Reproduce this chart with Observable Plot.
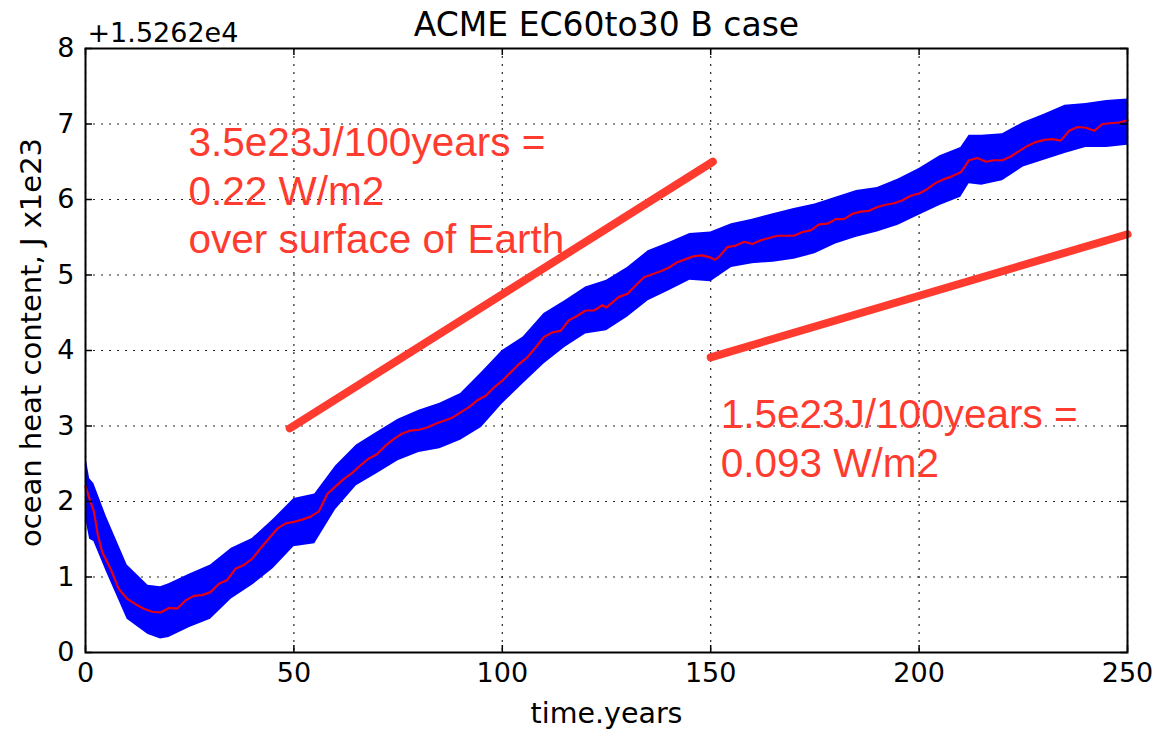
<!DOCTYPE html>
<html>
<head>
<meta charset="utf-8">
<script src="https://cdn.jsdelivr.net/npm/d3@7"></script>
<script src="https://cdn.jsdelivr.net/npm/@observablehq/plot@0.6"></script>
<style>
  html, body { margin: 0; padding: 0; background: #fff; }
  #chart svg { display: block; }
</style>
</head>
<body>
<div id="chart"></div>
<script>
// ---- data ----
const title = "ACME EC60to30 B case";
const offsetLabel = "+1.5262e4";
const xLabel = "time.years";
const yLabel = "ocean heat content, J x1e23";
const xTicks = [0, 50, 100, 150, 200, 250];
const yTicks = [0, 1, 2, 3, 4, 5, 6, 7, 8];

// annual-mean (red) line
const meanYears = [0,1,2,3,4,6,8,10,12,14,16,18,20,22,24,26,28,30,32,34,36,38,40,42,44,46,48,50,52,54,56,58,60,62,64,66,68,70,72,74,76,78,80,82,84,86,88,90,92,94,96,98,100,102,104,106,108,110,112,114,116,118,120,122,124,125,128,130,132,134,136,138,140,142,144,146,148,150,151,152,154,156,158,160,162,164,166,168,170,172,174,176,178,180,182,184,186,188,190,192,194,196,198,200,202,204,206,208,210,212,214,216,218,220,222,224,226,228,230,232,234,236,238,240,242,244,246,248,250];
const meanValues = [2.2,2.03,1.87,1.55,1.33,1.11,0.84,0.71,0.64,0.58,0.54,0.53,0.59,0.58,0.69,0.75,0.76,0.80,0.91,0.96,1.11,1.16,1.24,1.38,1.51,1.64,1.71,1.73,1.76,1.80,1.87,2.10,2.20,2.30,2.38,2.48,2.57,2.63,2.74,2.83,2.90,2.94,2.95,2.98,3.03,3.07,3.11,3.18,3.25,3.34,3.40,3.51,3.60,3.71,3.82,3.91,4.04,4.18,4.24,4.26,4.40,4.46,4.53,4.53,4.60,4.57,4.71,4.75,4.86,4.97,5.01,5.05,5.10,5.17,5.21,5.25,5.26,5.23,5.20,5.24,5.37,5.39,5.44,5.41,5.46,5.49,5.52,5.52,5.52,5.57,5.59,5.67,5.68,5.74,5.74,5.81,5.84,5.85,5.90,5.93,5.95,5.99,6.05,6.08,6.14,6.22,6.27,6.31,6.36,6.52,6.55,6.50,6.52,6.52,6.57,6.64,6.71,6.76,6.79,6.80,6.78,6.91,6.96,6.95,6.91,7.00,7.01,7.02,7.05];

// monthly (blue) seasonal envelope
const bandYears = [0,1,2,5,10,15,18,20,25,30,35,40,45,50,55,60,65,70,75,80,85,90,95,100,105,110,115,120,125,130,135,140,145,150,155,160,165,170,175,180,185,190,195,200,205,210,212,215,220,225,230,235,240,245,250];
const bandHigh = [2.62,2.3,2.24,1.80,1.16,0.89,0.87,0.91,1.04,1.16,1.38,1.51,1.76,2.04,2.10,2.47,2.75,2.92,3.09,3.21,3.30,3.43,3.71,4.0,4.18,4.49,4.66,4.84,4.93,5.10,5.32,5.43,5.55,5.57,5.68,5.74,5.81,5.88,5.94,6.03,6.12,6.16,6.27,6.41,6.58,6.69,6.85,6.85,6.87,7.02,7.13,7.25,7.27,7.31,7.33];
const bandLow = [1.78,1.5,1.47,1.07,0.44,0.24,0.18,0.20,0.33,0.44,0.71,0.89,1.11,1.40,1.44,1.89,2.21,2.37,2.54,2.65,2.70,2.81,2.98,3.29,3.56,3.82,4.04,4.22,4.26,4.44,4.66,4.79,4.93,4.91,5.10,5.15,5.17,5.21,5.28,5.41,5.50,5.57,5.66,5.79,5.92,6.03,6.21,6.19,6.25,6.43,6.52,6.61,6.69,6.69,6.72];

// hand-drawn trend lines
const trend1Years = [49, 150.5];
const trend1Values = [2.97, 6.5];
const trend2Years = [150, 250];
const trend2Values = [3.91, 5.54];

// annotations
const note1Lines = ["3.5e23J/100years =", "0.22 W/m2", "over surface of Earth"];
const note1Pos = {x: 24.7, y: 5.29};
const note2Lines = ["1.5e23J/100years =", "0.093 W/m2"];
const note2Pos = {x: 152.4, y: 2.33};

// ---- build tables ----
const mean = meanYears.map((x, i) => ({year: x, value: meanValues[i]}));
const band = bandYears.map((x, i) => ({year: x, low: bandLow[i], high: bandHigh[i]}));
const trend1 = trend1Years.map((x, i) => ({year: x, value: trend1Values[i]}));
const trend2 = trend2Years.map((x, i) => ({year: x, value: trend2Values[i]}));

const W = 1155, H = 730, ML = 85, MR = 28, MT = 48, MB = 78;
const FW = W - ML - MR, FH = H - MT - MB, TICK = 7;
const RED = "#ff3b30";
const gridStyle = {stroke: "#000", strokeOpacity: 0.85, strokeWidth: 1.2, strokeDasharray: "2,6"};
const tickStyle = {stroke: "#000", strokeWidth: 1.5};
const intFmt = d3.format("d");
const noteFont = "'Liberation Sans', Arial, sans-serif";

const chart = Plot.plot({
  width: W,
  height: H,
  marginLeft: ML,
  marginRight: MR,
  marginTop: MT,
  marginBottom: MB,
  style: {fontFamily: "'DejaVu Sans', sans-serif", fontSize: "27px", background: "#fff", color: "#000"},
  x: {domain: [0, 250]},
  y: {domain: [0, 8]},
  marks: [
    Plot.gridX(xTicks, gridStyle),
    Plot.gridY(yTicks, gridStyle),
    Plot.areaY(band, {x: "year", y1: "low", y2: "high", fill: "#0000ff", curve: "linear"}),
    Plot.line(mean, {x: "year", y: "value", stroke: "#e60012", strokeWidth: 2.2}),
    Plot.line(trend1, {x: "year", y: "value", stroke: RED, strokeWidth: 8}),
    Plot.line(trend2, {x: "year", y: "value", stroke: RED, strokeWidth: 8}),
    Plot.text([note1Lines.join("\n")], {x: note1Pos.x, y: note1Pos.y, textAnchor: "start", lineAnchor: "bottom", lineHeight: 1.2, fill: RED, fontSize: 40.5, fontFamily: noteFont}),
    Plot.text([note2Lines.join("\n")], {x: note2Pos.x, y: note2Pos.y, textAnchor: "start", lineAnchor: "bottom", lineHeight: 1.2, fill: RED, fontSize: 40.5, fontFamily: noteFont}),
    // inward tick marks on all four sides
    Plot.tickX(xTicks, {x: d => d, insetTop: FH - TICK, ...tickStyle}),
    Plot.tickX(xTicks, {x: d => d, insetBottom: FH - TICK, ...tickStyle}),
    Plot.tickY(yTicks, {y: d => d, insetRight: FW - TICK, ...tickStyle}),
    Plot.tickY(yTicks, {y: d => d, insetLeft: FW - TICK, ...tickStyle}),
    Plot.frame({stroke: "#000", strokeWidth: 2}),
    // tick labels
    Plot.axisX(xTicks, {anchor: "bottom", tickSize: 0, tickPadding: 10, tickFormat: intFmt, label: null, fontSize: 27}),
    Plot.axisY(yTicks, {anchor: "left", tickSize: 0, tickPadding: 11, tickFormat: intFmt, label: null, fontSize: 27}),
    // titles
    Plot.text([title], {frameAnchor: "top", dy: -13, lineAnchor: "bottom", fontSize: 33}),
    Plot.text([offsetLabel], {frameAnchor: "top-left", dx: 2, dy: -7, textAnchor: "start", lineAnchor: "bottom", fontSize: 27}),
    Plot.text([xLabel], {frameAnchor: "bottom", dy: 70, lineAnchor: "bottom", fontSize: 28.5}),
    Plot.text([yLabel], {frameAnchor: "left", dx: -45, dy: -8, rotate: -90, textAnchor: "middle", lineAnchor: "bottom", fontSize: 29})
  ]
});

document.getElementById("chart").appendChild(chart);
</script>
</body>
</html>
